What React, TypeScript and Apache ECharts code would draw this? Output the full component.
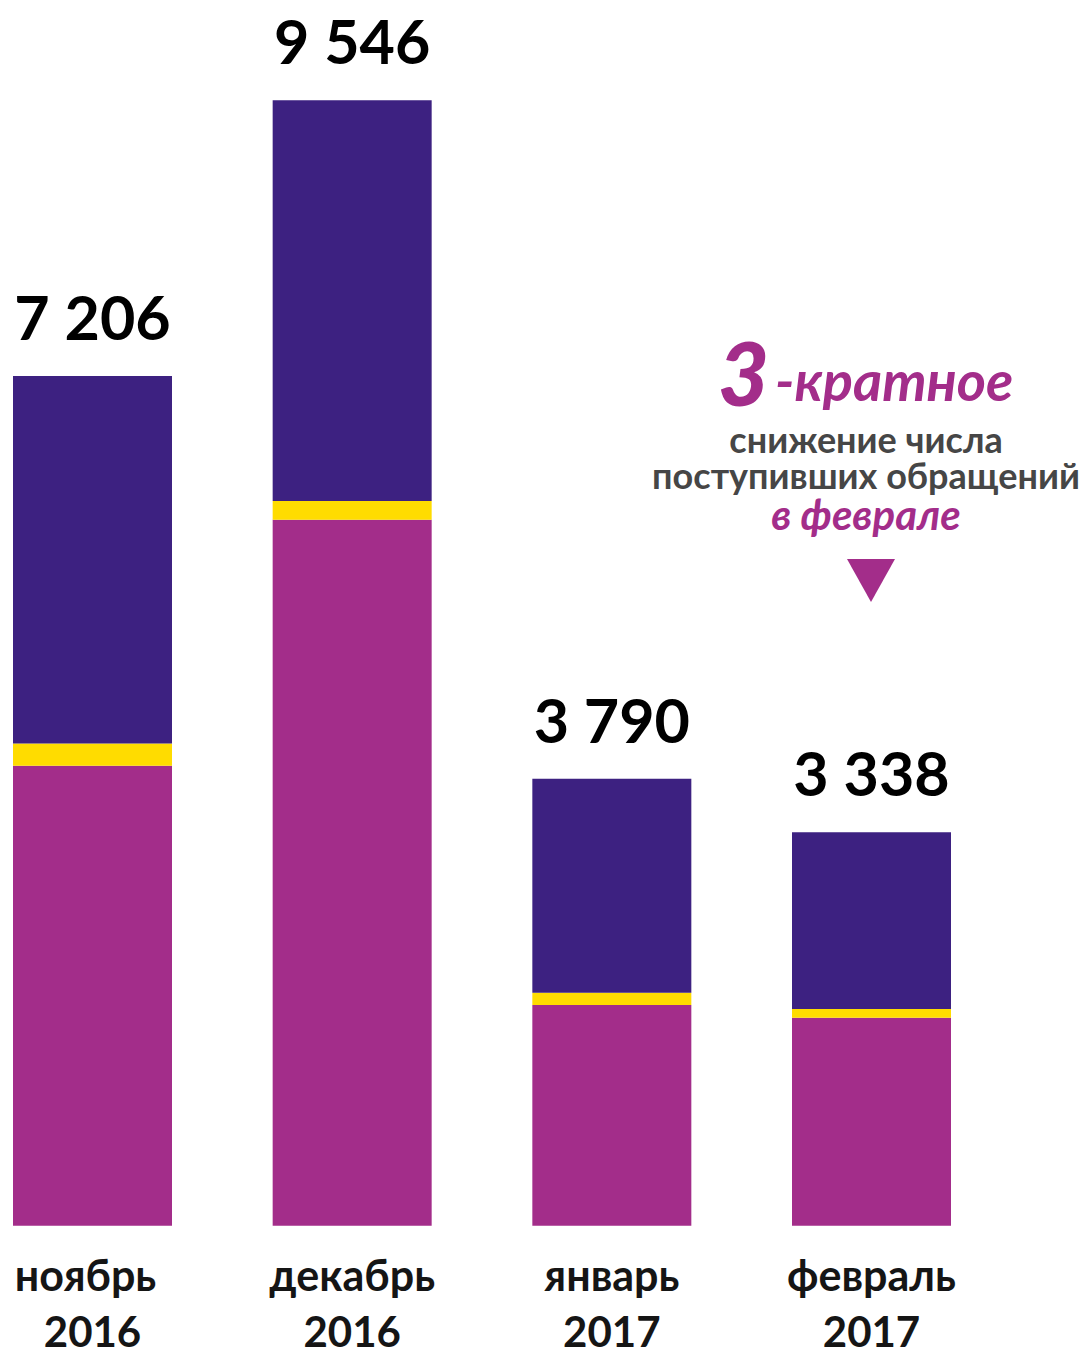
import React, { useEffect, useRef } from "react";
import * as echarts from "echarts";

const months = ["ноябрь", "декабрь", "январь", "февраль"];
const years = ["2016", "2016", "2017", "2017"];
// stacked segments, bottom to top
const magentaValues = [3902, 5988, 1872, 1764];
const yellowValues = [187, 159, 104, 74];
const purpleValues = [3117, 3399, 1814, 1500];
const totals = [7206, 9546, 3790, 3338];

const noteBig = "3";
const noteRest = "-кратное";
const noteLine1 = "снижение числа";
const noteLine2 = "поступивших обращений";
const noteLine3 = "в феврале";

const MAGENTA = "#a32d8a";
const YELLOW = "#ffdc00";
const PURPLE = "#3d2181";
const GRAY = "#464646";
const FONT = 'Lato, "Noto Sans", sans-serif';

const fmt = (v: number) => String(v).replace(/\B(?=(\d{3})+(?!\d))/g, " ");

const monthStyle = {
  fontFamily: FONT,
  fontSize: 43,
  fontWeight: "bold",
  color: "#151515",
  lineHeight: 58,
  verticalAlign: "top",
};

export default function App() {
  const ref = useRef<HTMLDivElement>(null);
  useEffect(() => {
    if (!ref.current) return;
    const chart = echarts.init(ref.current, undefined, { renderer: "svg" });
    const categories = months.map((m, i) => m + "\n" + years[i]);
    chart.setOption({
      animation: false,
      backgroundColor: "#ffffff",
      grid: {
        left: 92.5,
        width: 779,
        top: 46.7,
        height: 1179,
        containLabel: false,
        outerBoundsMode: "none",
      },
      xAxis: {
        type: "category",
        data: categories,
        boundaryGap: false,
        axisLine: { show: false },
        axisTick: { show: false },
        splitLine: { show: false },
        axisLabel: {
          margin: 27.5,
          align: "center",
          formatter: (v: string, idx: number) => {
            const [m, y] = v.split("\n");
            return "{" + (idx === 0 ? "m0" : "m") + "|" + m + "}\n{y|" + y + "}";
          },
          rich: {
            m: monthStyle,
            m0: { ...monthStyle, padding: [0, 14, 0, 0] },
            y: {
              fontFamily: FONT,
              fontSize: 42,
              fontWeight: "bold",
              color: "#151515",
              lineHeight: 40,
            },
          },
        },
      },
      yAxis: {
        type: "value",
        min: 0,
        max: 10000,
        show: false,
        splitLine: { show: false },
      },
      series: [
        {
          type: "bar",
          stack: "t",
          data: magentaValues,
          barWidth: 159,
          clip: false,
          itemStyle: { color: MAGENTA },
        },
        {
          type: "bar",
          stack: "t",
          data: yellowValues,
          barWidth: 159,
          clip: false,
          itemStyle: { color: YELLOW },
        },
        {
          type: "bar",
          stack: "t",
          data: purpleValues,
          barWidth: 159,
          clip: false,
          itemStyle: { color: PURPLE },
          label: {
            show: true,
            position: "top",
            distance: 29,
            fontFamily: FONT,
            fontSize: 61,
            fontWeight: "bold",
            color: "#000000",
            formatter: (p: any) => fmt(totals[p.dataIndex]),
          },
        },
      ],
      graphic: [
        {
          type: "text",
          x: 718,
          y: 372,
          style: {
            text: noteBig,
            fontFamily: FONT,
            fontSize: 88,
            fontWeight: 900,
            fontStyle: "italic",
            fill: MAGENTA,
            align: "left",
            verticalAlign: "middle",
          },
        },
        {
          type: "text",
          x: 775,
          y: 379,
          style: {
            text: noteRest,
            fontFamily: FONT,
            fontSize: 56,
            fontWeight: "bold",
            fontStyle: "italic",
            fill: MAGENTA,
            align: "left",
            verticalAlign: "middle",
          },
        },
        {
          type: "text",
          x: 866,
          y: 421.25,
          style: {
            text:
              "{g|" + noteLine1 + "}\n{g|" + noteLine2 + "}\n{m|" + noteLine3 + "}",
            align: "center",
            verticalAlign: "top",
            rich: {
              g: {
                fontFamily: FONT,
                fontSize: 36,
                fontWeight: "bold",
                fill: GRAY,
                lineHeight: 35.5,
              },
              m: {
                fontFamily: FONT,
                fontSize: 42,
                fontWeight: "bold",
                fontStyle: "italic",
                fill: MAGENTA,
                lineHeight: 43.5,
              },
            },
          },
        },
        {
          type: "polygon",
          shape: { points: [[847, 559], [895, 559], [871, 602]] },
          style: { fill: MAGENTA },
        },
      ],
    });
    return () => chart.dispose();
  }, []);
  return (
    <div
      ref={ref}
      style={{ position: "absolute", left: 0, top: 0, width: 1086, height: 1351 }}
    />
  );
}
